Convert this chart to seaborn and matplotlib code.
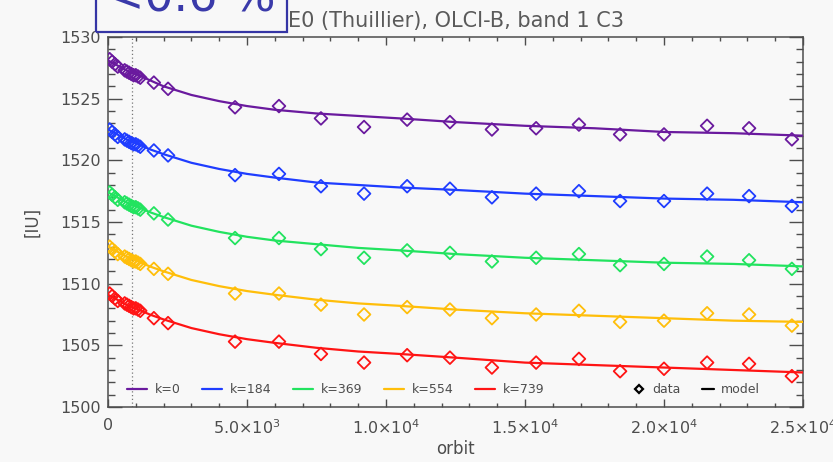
import matplotlib
matplotlib.use("Agg")
import matplotlib.pyplot as plt
from matplotlib.lines import Line2D
from matplotlib.patches import Rectangle
from matplotlib.ticker import MultipleLocator, FixedLocator, FixedFormatter
import pandas as pd
import seaborn as sns

# ---- data -----------------------------------------------------------------
series_labels = ["k=0", "k=184", "k=369", "k=554", "k=739"]
series_colors = ["#6a1a9e", "#1f3dff", "#22e35f", "#ffbe0a", "#ff1414"]

early_orbits = [60, 150, 250, 350, 600, 680, 760, 840, 920, 1000, 1080, 1160]
late_orbits = [1650, 2160, 4570, 6150, 7660, 9210, 10760, 12300,
               13810, 15400, 16940, 18420, 20000, 21550, 23060, 24600]

early_k0 = [1528.2, 1528.0, 1527.8, 1527.6, 1527.3, 1527.2, 1527.1, 1527.0, 1526.9, 1526.9, 1526.8, 1526.7]
early_k184 = [1522.5, 1522.3, 1522.1, 1521.9, 1521.7, 1521.6, 1521.5, 1521.4, 1521.3, 1521.3, 1521.2, 1521.1]
early_k369 = [1517.4, 1517.2, 1517.0, 1516.8, 1516.6, 1516.5, 1516.4, 1516.3, 1516.2, 1516.2, 1516.1, 1516.0]
early_k554 = [1513.0, 1512.8, 1512.6, 1512.4, 1512.2, 1512.1, 1512.0, 1511.9, 1511.8, 1511.8, 1511.7, 1511.6]
early_k739 = [1509.2, 1509.0, 1508.8, 1508.6, 1508.4, 1508.3, 1508.2, 1508.1, 1508.0, 1508.0, 1507.9, 1507.8]

late_k0 = [1526.3, 1525.8, 1524.3, 1524.4, 1523.4, 1522.7, 1523.3, 1523.1,
           1522.5, 1522.6, 1522.9, 1522.1, 1522.1, 1522.8, 1522.6, 1521.7]
late_k184 = [1520.8, 1520.4, 1518.8, 1518.9, 1517.9, 1517.3, 1517.9, 1517.7,
             1517.0, 1517.3, 1517.5, 1516.7, 1516.7, 1517.3, 1517.1, 1516.3]
late_k369 = [1515.7, 1515.2, 1513.7, 1513.7, 1512.8, 1512.1, 1512.7, 1512.5,
             1511.8, 1512.1, 1512.4, 1511.5, 1511.6, 1512.2, 1511.9, 1511.2]
late_k554 = [1511.2, 1510.8, 1509.2, 1509.2, 1508.3, 1507.5, 1508.1, 1507.9,
             1507.2, 1507.5, 1507.8, 1506.9, 1507.0, 1507.6, 1507.5, 1506.6]
late_k739 = [1507.2, 1506.8, 1505.3, 1505.3, 1504.3, 1503.6, 1504.2, 1504.0,
             1503.2, 1503.6, 1503.9, 1502.9, 1503.1, 1503.6, 1503.5, 1502.5]

model_orbits = [0, 250, 500, 750, 1000, 1500, 2000, 3000, 4000, 5000, 6000,
                7500, 9000, 10500, 12500, 15000, 17500, 20000, 22500, 25000]
model_k0 = [1528.1, 1527.8, 1527.5, 1527.2, 1527.0, 1526.5, 1526.0, 1525.3, 1524.8, 1524.4,
            1524.1, 1523.8, 1523.6, 1523.4, 1523.1, 1522.8, 1522.6, 1522.3, 1522.2, 1522.0]
model_k184 = [1522.5, 1522.2, 1521.9, 1521.6, 1521.4, 1520.9, 1520.5, 1519.8, 1519.3, 1518.9,
              1518.6, 1518.2, 1518.0, 1517.8, 1517.6, 1517.3, 1517.1, 1516.9, 1516.8, 1516.6]
model_k369 = [1517.4, 1517.1, 1516.8, 1516.5, 1516.3, 1515.8, 1515.4, 1514.7, 1514.2, 1513.8,
              1513.5, 1513.2, 1512.9, 1512.7, 1512.4, 1512.1, 1511.9, 1511.7, 1511.6, 1511.4]
model_k554 = [1513.0, 1512.7, 1512.4, 1512.1, 1511.9, 1511.4, 1511.0, 1510.3, 1509.8, 1509.4,
              1509.1, 1508.7, 1508.4, 1508.2, 1507.9, 1507.6, 1507.4, 1507.2, 1507.0, 1506.9]
model_k739 = [1509.1, 1508.8, 1508.5, 1508.2, 1508.0, 1507.5, 1507.1, 1506.4, 1505.9, 1505.5,
              1505.2, 1504.8, 1504.5, 1504.3, 1504.0, 1503.6, 1503.4, 1503.2, 1503.0, 1502.8]

reference_orbit = 860

xtick_values = [0, 5000, 10000, 15000, 20000, 25000]
xtick_labels = ["0", r"5.0$\times$10$^{3}$", r"1.0$\times$10$^{4}$",
                r"1.5$\times$10$^{4}$", r"2.0$\times$10$^{4}$", r"2.5$\times$10$^{4}$"]

title_text = "E0 (Thuillier), OLCI-B, band 1 C3"
note_text = "<0.6 %"

# ---- tidy tables ----------------------------------------------------------
data_sets = [early_k0 + late_k0, early_k184 + late_k184, early_k369 + late_k369,
             early_k554 + late_k554, early_k739 + late_k739]
model_sets = [model_k0, model_k184, model_k369, model_k554, model_k739]

data_df = pd.concat(
    [pd.DataFrame({"orbit": early_orbits + late_orbits, "value": vals, "series": lab})
     for lab, vals in zip(series_labels, data_sets)], ignore_index=True)
model_df = pd.concat(
    [pd.DataFrame({"orbit": model_orbits, "value": vals, "series": lab})
     for lab, vals in zip(series_labels, model_sets)], ignore_index=True)

# ---- style ----------------------------------------------------------------
bg = "#f8f8f8"
ink = "#4d4d4d"
sns.set_style("ticks", rc={"axes.facecolor": bg, "figure.facecolor": bg,
                           "axes.edgecolor": ink})
plt.rcParams["font.family"] = ["DejaVu Sans"]

fig = plt.figure(figsize=(8.33, 4.62), dpi=100)
ax = fig.add_axes([108 / 833, 1 - 407 / 462, 695 / 833, 370 / 462])

palette = dict(zip(series_labels, series_colors))

for lab in series_labels:
    sub = data_df[data_df["series"] == lab]
    sns.scatterplot(data=sub, x="orbit", y="value", ax=ax, marker="D", s=42,
                    color=palette[lab], facecolor="none", edgecolor=palette[lab],
                    linewidth=1.3, zorder=3, legend=False)

sns.lineplot(data=model_df, x="orbit", y="value", hue="series", palette=palette,
             estimator=None, sort=True, linewidth=1.6, legend=False, ax=ax, zorder=4)

ax.axvline(reference_orbit, color="#777777", linestyle=(0, (1, 2)), linewidth=0.9, zorder=1)

ax.set_xlim(0, 25000)
ax.set_ylim(1500, 1530)
ax.xaxis.set_major_locator(FixedLocator(xtick_values))
ax.xaxis.set_major_formatter(FixedFormatter(xtick_labels))
ax.xaxis.set_minor_locator(MultipleLocator(1000))
ax.yaxis.set_major_locator(MultipleLocator(5))
ax.yaxis.set_minor_locator(MultipleLocator(1))

ax.tick_params(which="both", direction="in", top=True, right=True,
               color=ink, labelcolor=ink, labelsize=11.5, width=1.0)
ax.tick_params(axis="y", which="major", length=10, pad=5)
ax.tick_params(axis="y", which="minor", length=5)
ax.tick_params(axis="x", which="major", length=5.5, pad=8)
ax.tick_params(axis="x", which="minor", length=3)
for sp in ax.spines.values():
    sp.set_color(ink)
    sp.set_linewidth(1.1)

ax.set_xlabel("orbit", color=ink, fontsize=12, labelpad=2)
ax.set_ylabel("[IU]", color=ink, fontsize=12, labelpad=14)
ax.set_title(title_text, color="#5a5a5a", fontsize=15, pad=7)

# legends: series colours on the left, symbol key on the right
series_handles = [Line2D([], [], color=c, lw=1.6) for c in series_colors]
leg1 = ax.legend(series_handles, series_labels, ncol=5, loc="center left",
                 bbox_to_anchor=(0.027, 0.046), frameon=False, fontsize=9,
                 handlelength=1.6, handletextpad=0.65, columnspacing=1.7,
                 borderpad=0, borderaxespad=0, labelcolor=ink)
ax.add_artist(leg1)
key_handles = [Line2D([], [], color="black", marker="D", markersize=4,
                      markerfacecolor="none", markeredgewidth=1.6, linestyle="none"),
               Line2D([], [], color="black", lw=1.6)]
ax.legend(key_handles, ["data", "model"], ncol=2, loc="center left",
          bbox_to_anchor=(0.755, 0.046), frameon=False, fontsize=9,
          handlelength=1.0, handletextpad=0.55, columnspacing=1.7,
          borderpad=0, borderaxespad=0, labelcolor=ink)

# boxed note at the top left
fig.patches.append(Rectangle((96 / 833, 1 - 32 / 462), 191 / 833, 60 / 462,
                             transform=fig.transFigure, fill=False,
                             edgecolor="#3535a5", linewidth=1.6, zorder=5))
fig.text(191 / 833, 1 - 12 / 462, note_text, color="#3a3aaa", fontsize=33,
         ha="center", va="baseline")

fig.savefig("out.png", dpi=100, facecolor=bg)
